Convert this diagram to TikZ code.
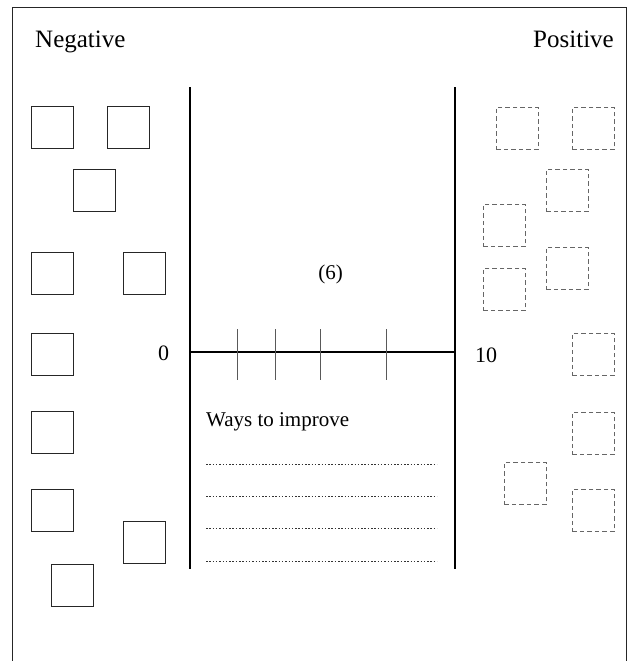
\documentclass[tikz,border=0pt]{standalone}
\usepackage{fontspec}
\setmainfont{Liberation Serif}
\begin{document}
\begin{tikzpicture}[x=1pt,y=-1pt,
  negbox/.style={draw=black!85,line width=0.9pt,minimum size=42pt,inner sep=0pt,anchor=north west},
  posbox/.style={draw=black!60,line width=0.9pt,dash pattern=on 4.5pt off 3pt,minimum size=42pt,inner sep=0pt,anchor=north west},
  scaleline/.style={line width=2.2pt,black},
  tickline/.style={line width=0.9pt,black!65},
  writeline/.style={line width=0.7pt,black!80,dash pattern=on 1.5pt off 1.8pt},
  heading/.style={font=\fontsize{25}{30}\selectfont,inner sep=0pt,anchor=base west},
  numlabel/.style={font=\fontsize{22}{26}\selectfont,inner sep=0pt}
]
\useasboundingbox (0,0) rectangle (631,661);
% frame (open at the bottom)
\draw[line width=0.9pt,black!85] (12,663) -- (12,7) -- (626,7) -- (626,663);
% headings
\node[heading] (neg) at (35,48) {Negative};
\node[heading,anchor=base east] (pos) at (614,48) {Positive};
% negative boxes
\node[negbox] (l1) at (31,106) {};
\node[negbox] (l2) at (107,106) {};
\node[negbox] (l3) at (73,169) {};
\node[negbox] (l4) at (31,252) {};
\node[negbox] (l5) at (123,252) {};
\node[negbox] (l6) at (31,333) {};
\node[negbox] (l7) at (31,411) {};
\node[negbox] (l8) at (31,489) {};
\node[negbox] (l9) at (123,521) {};
\node[negbox] (l10) at (51,564) {};
% positive boxes
\node[posbox] (r1) at (496,107) {};
\node[posbox] (r2) at (572,107) {};
\node[posbox] (r3) at (546,169) {};
\node[posbox] (r4) at (483,204) {};
\node[posbox] (r5) at (546,247) {};
\node[posbox] (r6) at (483,268) {};
\node[posbox] (r7) at (572,333) {};
\node[posbox] (r8) at (572,412) {};
\node[posbox] (r9) at (504,462) {};
\node[posbox] (r10) at (572,489) {};
% scale
\coordinate (lt) at (190,87);
\coordinate (lb) at (190,569);
\coordinate (rt) at (455,87);
\coordinate (rb) at (455,569);
\coordinate (h0) at (190,352);
\coordinate (h10) at (455,352);
\draw[scaleline] (lt) -- (lb);
\draw[scaleline] (rt) -- (rb);
\draw[scaleline] (h0) -- (h10);
\foreach \tx in {237.7,275.7,320.7,386} {
  \draw[tickline] (\tx,329) -- (\tx,380);
}
\node[numlabel] (zero) at (163.5,353.5) {0};
\node[numlabel] (ten) at (486,355.5) {10};
\node[font=\fontsize{21}{25}\selectfont,inner sep=0pt] (val) at (330.5,274) {(6)};
% ways to improve
\node[font=\fontsize{21}{25}\selectfont,inner sep=0pt,anchor=base west] (ways) at (206,426) {Ways to improve};
\foreach \wy in {464,496,528,561} {
  \draw[writeline] (206,\wy) -- (437,\wy);
}
\end{tikzpicture}
\end{document}
